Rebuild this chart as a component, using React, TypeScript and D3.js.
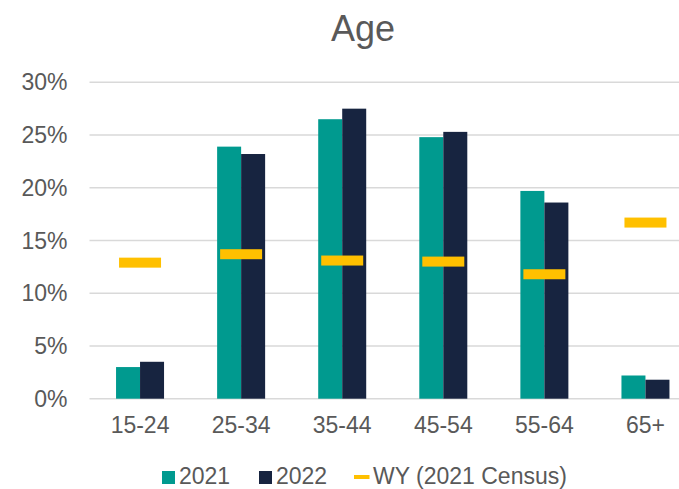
import React from "react";
import * as d3 from "d3";

const categories = ["15-24", "25-34", "35-44", "45-54", "55-64", "65+"];
const series2021 = [3.0, 23.9, 26.5, 24.8, 19.7, 2.2];
const series2022 = [3.5, 23.2, 27.5, 25.3, 18.6, 1.8];
const censusWY = [12.9, 13.7, 13.1, 13.0, 11.8, 16.7];
const yTicks = [0, 5, 10, 15, 20, 25, 30];
const seriesNames = ["2021", "2022"];

const W = 679;
const H = 489;
const FONT = "Arial, 'Liberation Sans', sans-serif";
const TEXT = "#595959";
const TEAL = "#009A8F";
const NAVY = "#172440";
const GOLD = "#FFC000";
const GRID = "#D9D9D9";

export default function App() {
  const x = d3.scaleBand<string>().domain(categories).range([89.5, 696]).padding(0);
  const y = d3.scaleLinear().domain([0, 30]).range([398.7, 82.3]);
  const barW = 24;
  const half = x.bandwidth() / 2;
  const xs = d3
    .scaleBand<string>()
    .domain(seriesNames)
    .range([half - barW, half + barW])
    .padding(0);

  const values: Record<string, number[]> = { "2021": series2021, "2022": series2022 };
  const colors: Record<string, string> = { "2021": TEAL, "2022": NAVY };

  return (
    <svg
      width={W}
      height={H}
      style={{ position: "absolute", left: 0, top: 0, background: "#fff" }}
      fontFamily={FONT}
    >
      <text x={363} y={41} textAnchor="middle" fontSize={36} fill={TEXT}>
        Age
      </text>

      {yTicks.map((t) => (
        <g key={t}>
          <line x1={89.5} x2={W} y1={y(t)} y2={y(t)} stroke={GRID} strokeWidth={1.5} />
          <text x={67.5} y={y(t)} dy="0.35em" textAnchor="end" fontSize={23} fill={TEXT}>
            {`${t}%`}
          </text>
        </g>
      ))}

      {categories.map((c, i) => (
        <g key={c} transform={`translate(${x(c)},0)`}>
          {seriesNames.map((s) => (
            <rect
              key={s}
              x={xs(s)}
              y={y(values[s][i])}
              width={xs.bandwidth()}
              height={y(0) - y(values[s][i])}
              fill={colors[s]}
            />
          ))}
          <rect x={half - 21} y={y(censusWY[i]) - 5} width={42} height={10} fill={GOLD} />
          <text x={half} y={433} textAnchor="middle" fontSize={23} fill={TEXT}>
            {c}
          </text>
        </g>
      ))}

      <g fontSize={23} fill={TEXT}>
        <rect x={162} y={471} width={13} height={13} fill={TEAL} />
        <text x={179} y={484}>2021</text>
        <rect x={259} y={471} width={13} height={13} fill={NAVY} />
        <text x={276} y={484}>2022</text>
        <rect x={354} y={475} width={15.5} height={4} fill={GOLD} />
        <text x={373} y={484}>WY (2021 Census)</text>
      </g>
    </svg>
  );
}
